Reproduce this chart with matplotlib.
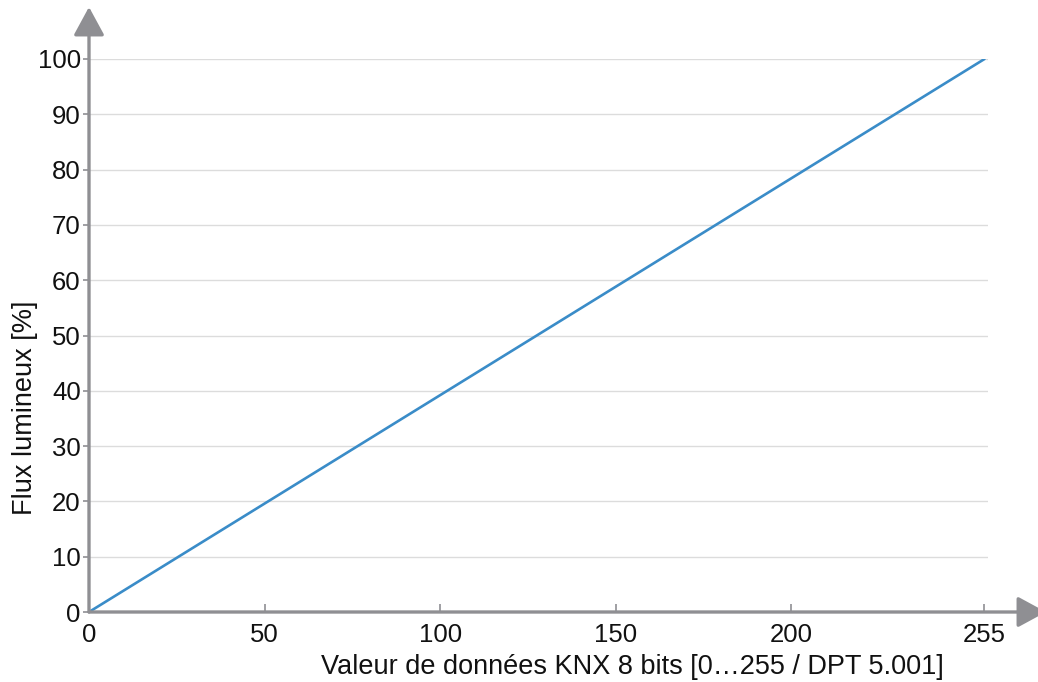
import matplotlib
matplotlib.use("Agg")
import matplotlib.pyplot as plt

# data
knx_value = [0, 255]
flux_percent = [0, 100]
x_ticks = [0, 50, 100, 150, 200, 255]
y_ticks = [0, 10, 20, 30, 40, 50, 60, 70, 80, 90, 100]

plt.rcParams["font.family"] = ["Liberation Sans", "DejaVu Sans"]

axis_grey = "#8f8f93"
line_blue = "#3a8cc8"

fig = plt.figure(figsize=(10.38, 6.82), dpi=100)
W, H = 1038, 682
left, right, top, bottom = 89, 988, 59, 612
ax = fig.add_axes([left / W, 1 - bottom / H, (right - left) / W, (bottom - top) / H])

ax.plot(knx_value, flux_percent, color=line_blue, lw=1.9, solid_capstyle="round", zorder=3)

ax.set_xlim(0, 256)
ax.set_ylim(0, 100)
ax.set_xticks(x_ticks)
ax.set_yticks(y_ticks)
ax.yaxis.grid(True, color="#dcdcdc", lw=1.0)
ax.set_axisbelow(True)
for s in ax.spines.values():
    s.set_visible(False)

ax.tick_params(axis="y", direction="out", length=4, width=1.2, color=axis_grey,
               labelsize=18.5, pad=2, labelcolor="#111111")
ax.tick_params(axis="x", direction="in", length=6, width=1.2, color=axis_grey,
               labelsize=18.5, pad=8, labelcolor="#111111")

# axis lines with arrow heads
arrow_kw = dict(arrowstyle="-|>,head_length=0.7,head_width=0.38", color=axis_grey,
                lw=2.4, mutation_scale=25, shrinkA=0, shrinkB=0)
ax.annotate("", xy=(0, (bottom - 7) / (bottom - top)), xytext=(0, 0),
            xycoords="axes fraction", arrowprops=arrow_kw, annotation_clip=False)
ax.annotate("", xy=((1046 - left) / (right - left), 0), xytext=(0, 0),
            xycoords="axes fraction", arrowprops=arrow_kw, annotation_clip=False)

ax.set_xlabel("Valeur de données KNX 8 bits [0…255 / DPT 5.001]", fontsize=19.5,
              color="#111111")
ax.xaxis.set_label_coords((632 - left) / (right - left), -(667 - bottom) / (bottom - top))
ax.xaxis.label.set_va("center")
ax.set_ylabel("Flux lumineux [%]", fontsize=19.5, color="#111111")
ax.yaxis.set_label_coords(-(left - 25) / (right - left), (bottom - 408) / (bottom - top))
ax.yaxis.label.set_va("center")

fig.savefig("out.png", dpi=100)
